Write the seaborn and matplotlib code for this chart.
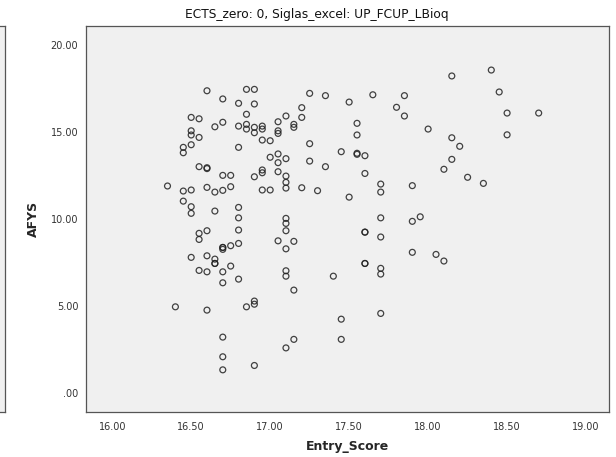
import matplotlib
matplotlib.use("Agg")
import matplotlib.pyplot as plt
import seaborn as sns
import pandas as pd

# valores (Entry_Score em passos de 0.05)
entry_score = (
    [16.35] + [16.40] + [16.45] * 4 + [16.50] * 8 + [16.55] * 6 + [16.60] * 8
    + [16.65] * 6 + [16.70] * 12 + [16.75] * 4 + [16.80] * 8 + [16.85] * 5
    + [16.90] * 8 + [16.95] * 6 + [17.00] * 3 + [17.05] * 7 + [17.10] * 12
    + [17.15] * 5 + [17.20] * 3 + [17.25] * 3 + [17.30] + [17.35] * 2 + [17.40]
    + [17.45] * 3 + [17.50] * 2 + [17.55] * 4 + [17.60] * 6 + [17.65]
    + [17.70] * 7 + [17.80] + [17.85] * 2 + [17.90] * 3 + [17.95] + [18.00]
    + [18.05] + [18.10] * 2 + [18.15] * 3 + [18.20] + [18.25] + [18.35]
    + [18.40] + [18.45] + [18.50] * 2 + [18.70]
)
afys = [
    11.90,
    4.96,
    14.12, 13.81, 11.61, 11.03,
    15.84, 15.07, 14.83, 14.27, 11.67, 10.71, 10.33, 7.80,
    15.76, 14.69, 13.01, 9.18, 8.83, 7.05,
    17.37, 12.95, 12.90, 11.82, 9.33, 7.89, 6.97, 4.77,
    15.30, 11.55, 10.46, 7.70, 7.45, 7.45,
    16.90, 15.56, 12.51, 11.65, 8.37, 8.37, 8.26, 6.97, 6.34, 3.22, 2.09, 1.34,
    12.51, 11.86, 8.47, 7.30,
    16.65, 15.34, 14.12, 10.67, 10.07, 9.37, 8.60, 6.55,
    17.45, 16.02, 15.44, 15.17, 4.96,
    17.45, 16.61, 15.27, 14.96, 12.43, 5.29, 5.11, 1.59,
    15.34, 15.17, 14.54, 12.82, 12.66, 11.67,
    14.50, 13.55, 11.67,
    15.59, 15.07, 14.92, 13.74, 13.24, 12.72, 8.75,
    15.92, 13.47, 12.47, 12.11, 11.78, 10.04, 9.75, 9.33, 8.29, 7.03, 6.72, 2.60,
    15.44, 15.27, 8.72, 5.92, 3.09,
    16.40, 15.84, 11.80,
    17.22, 14.33, 13.33,
    11.63,
    17.09, 13.01,
    6.72,
    13.87, 4.25, 3.09,
    16.72, 11.26,
    15.50, 14.83, 13.78, 13.72,
    13.64, 12.62, 9.25, 9.25, 7.45, 7.45,
    17.14,
    12.01, 11.55, 10.07, 8.97, 7.17, 6.84, 4.58,
    16.42,
    17.09, 15.92,
    11.92, 9.87, 8.09,
    10.13,
    15.17,
    7.97,
    12.86, 7.59,
    18.22, 14.67, 13.43,
    14.18,
    12.40,
    12.05,
    18.56,
    17.30,
    16.09, 14.84,
    16.09,
]
x_ticks = [16.0, 16.5, 17.0, 17.5, 18.0, 18.5, 19.0]
y_ticks = [0, 5, 10, 15, 20]
y_labels = [".00", "5.00", "10.00", "15.00", "20.00"]

df = pd.DataFrame({"Entry_Score": entry_score, "AFYS": afys})

sns.set_style("white")
plt.rcParams["font.family"] = ["DejaVu Sans"]

fig = plt.figure(figsize=(6.16, 4.57), dpi=100)
ax = fig.add_axes([0.1396, 0.0974, 0.8495, 0.8457])
ax.set_facecolor("#f0f0f0")

sns.scatterplot(data=df, x="Entry_Score", y="AFYS", ax=ax,
                marker="o", s=18, facecolor="none", edgecolor="#222222",
                linewidth=0.9, alpha=0.85)

ax.set_xlim(15.834, 19.147)
ax.set_ylim(-1.11, 21.09)
ax.set_xticks(x_ticks)
ax.set_xticklabels([f"{t:.2f}" for t in x_ticks])
ax.set_yticks(y_ticks)
ax.set_yticklabels(y_labels)
ax.tick_params(axis="both", direction="out", length=4.5, width=0.8,
               color="#444444", labelcolor="#333333", labelsize=7)
ax.tick_params(axis="x", pad=2)
ax.tick_params(axis="y", pad=1)
for sp in ax.spines.values():
    sp.set_color("#555555")
    sp.set_linewidth(0.9)

ax.set_xlabel("Entry_Score", fontsize=9, fontweight="bold", labelpad=6)
ax.set_ylabel("AFYS", fontsize=9, fontweight="bold", labelpad=8)

fig.text(0.514, 0.969, "ECTS_zero: 0, Siglas_excel: UP_FCUP_LBioq",
         ha="center", va="center", fontsize=8.8, color="#111111")

# borda do painel vizinho à esquerda
ax_left = fig.add_axes([-0.2, 0.0974, 0.2081, 0.8457])
ax_left.set_facecolor("#f0f0f0")
ax_left.set_xticks([])
ax_left.set_yticks([])
ax_left.spines["left"].set_visible(False)
for name in ["right", "top", "bottom"]:
    ax_left.spines[name].set_color("#555555")
    ax_left.spines[name].set_linewidth(0.9)

fig.savefig("out.png", dpi=100)
